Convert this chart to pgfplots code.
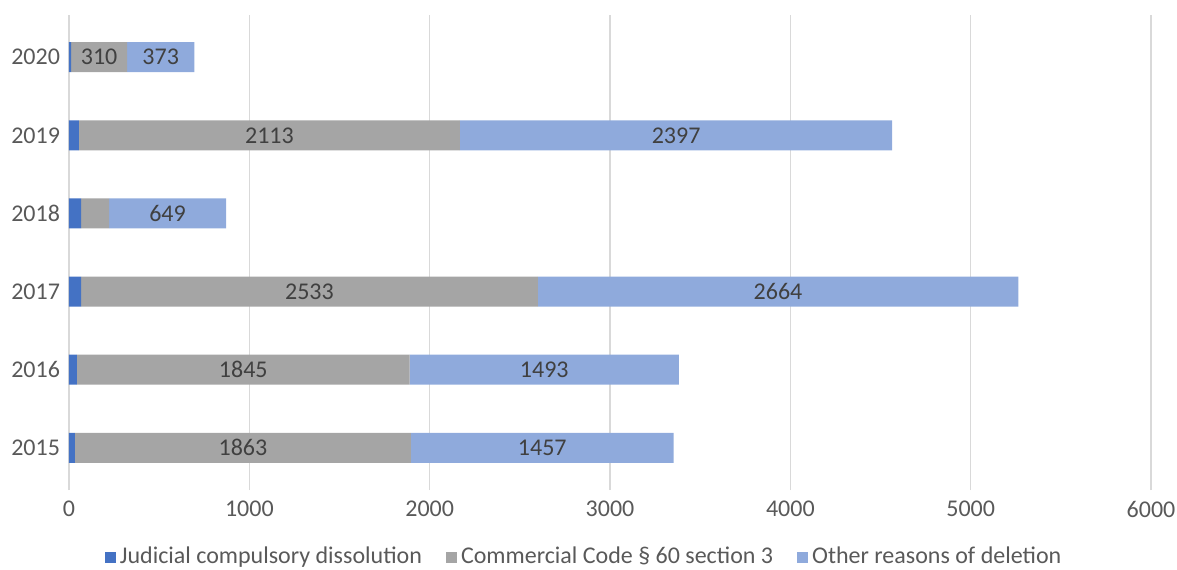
\documentclass[border=0pt]{standalone}
\usepackage{pgfplots}
\pgfplotsset{compat=1.18}
\usepackage{pgfplotstable}
\usepackage{fontspec}
\setmainfont{Carlito}
\definecolor{cJ}{HTML}{4472C4}
\definecolor{cC}{HTML}{A5A5A5}
\definecolor{cO}{HTML}{8FAADC}
\definecolor{txt}{HTML}{595959}
\definecolor{lab}{HTML}{404040}
\definecolor{gridc}{HTML}{D9D9D9}

\pgfplotstableread{
y  jud com comlab oth othlab
0  33  1863 1863 1457 1457
1  44  1845 1845 1493 1493
2  67  2533 2533 2664 2664
3  67  155  {}   649  649
4  55  2113 2113 2397 2397
5  12  310  310  373  373
}\data

\begin{document}
\begin{tikzpicture}
\begin{axis}[
  at={(34.5pt,-245pt)}, anchor=south west,
  scale only axis, width=541pt, height=237.5pt,
  xbar stacked, bar width=15pt,
  xmin=0, xmax=6000, ymin=-0.54, ymax=5.54,
  ytick={0,1,2,3,4,5}, yticklabels={2015,2016,2017,2018,2019,2020},
  xtick={0,1000,2000,3000,4000,5000,6000},
  xmajorgrids, major grid style={gridc, line width=0.8pt},
  axis line style={draw=none},
  major tick length=0pt,
  tick label style={font=\fontsize{12}{14}\selectfont, text=txt},
  /pgf/number format/assume math mode=true,
  /pgf/number format/1000 sep={},
  scaled x ticks=false,
  xticklabel style={yshift=-2pt},
  yticklabel style={xshift=-1pt},
  legend style={at={(0.477,-0.141)}, anchor=center, legend columns=3, draw=none, fill=none,
    font=\fontsize{12}{14}\selectfont, text=txt,
    /tikz/every even column/.append style={column sep=10pt}},
  legend image code/.code={\fill[#1] (0pt,-3pt) rectangle (5.5pt,2.5pt);},
]
\addplot[fill=cJ, draw=none] table[x=jud, y=y] {\data};
\addplot[fill=cC, draw=none, nodes near coords, point meta=explicit symbolic,
  every node near coord/.append style={anchor=center, font=\fontsize{12}{14}\selectfont, text=lab}]
  table[x=com, y=y, meta=comlab] {\data};
\addplot[fill=cO, draw=none, nodes near coords, point meta=explicit symbolic,
  every node near coord/.append style={anchor=center, font=\fontsize{12}{14}\selectfont, text=lab}]
  table[x=oth, y=y, meta=othlab] {\data};
\legend{Judicial compulsory dissolution, Commercial Code \S\ 60 section 3, Other reasons of deletion}
\end{axis}
\pgfresetboundingbox
\useasboundingbox (0,0) rectangle (588.5pt,-284.5pt);
\end{tikzpicture}
\end{document}
